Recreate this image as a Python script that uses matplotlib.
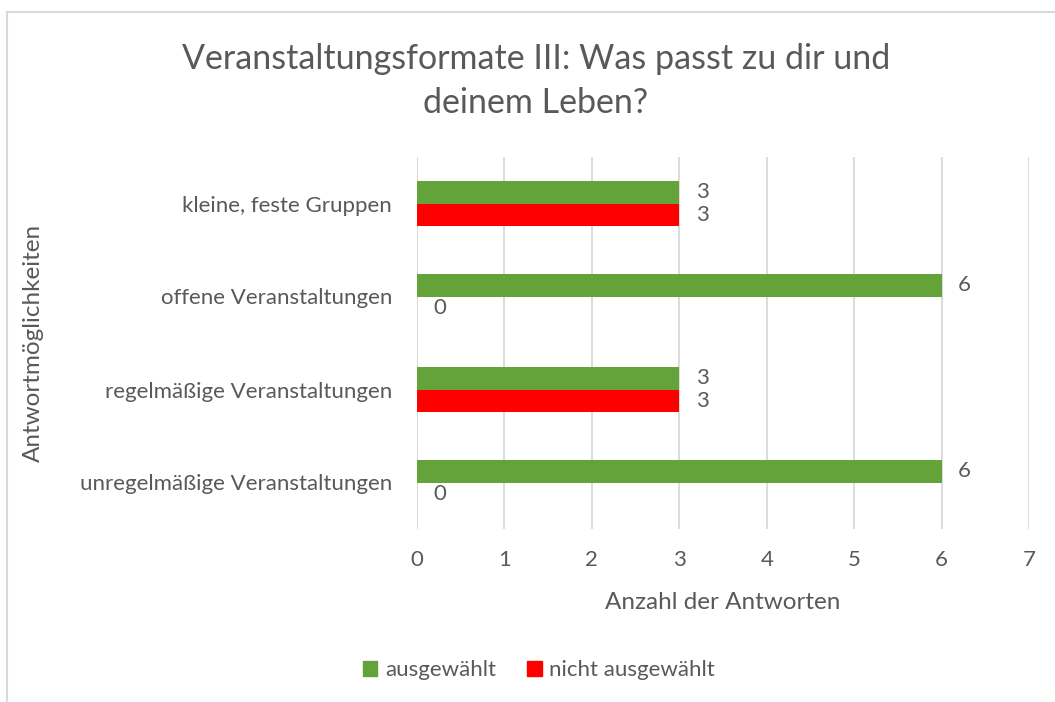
import matplotlib.pyplot as plt
from matplotlib.lines import Line2D
from matplotlib.patches import Patch
import numpy as np

# data
categories = ["kleine, feste Gruppen", "offene Veranstaltungen",
              "regelmäßige Veranstaltungen", "unregelmäßige Veranstaltungen"]
ausgewaehlt = [3, 6, 3, 6]
nicht_ausgewaehlt = [3, 0, 3, 0]
series_names = ["ausgewählt", "nicht ausgewählt"]

green = "#63A33A"
red = "#FF0000"
grey_txt = "#595959"
grid_c = "#D9D9D9"

plt.rcParams["font.family"] = ["Lato", "DejaVu Sans"]

fig = plt.figure(figsize=(10.55, 7.02), dpi=100)
W, H = 1055, 702
# axes in pixel coords: x 417..1029, y 157..529
ax = fig.add_axes([417 / W, 1 - 529 / H, (1029 - 417) / W, (529 - 157) / H])

y = np.arange(len(categories))[::-1].astype(float)
bh = 0.237
ax.barh(y + bh / 2, ausgewaehlt, height=bh, color=green, label=series_names[0])
ax.barh(y - bh / 2, nicht_ausgewaehlt, height=bh, color=red, label=series_names[1])

for yi, v in zip(y, ausgewaehlt):
    ax.text(v + 0.19, yi + bh / 2, str(v), va="center", ha="left", fontsize=16, color=grey_txt)
for yi, v in zip(y, nicht_ausgewaehlt):
    ax.text(v + 0.19, yi - bh / 2, str(v), va="center", ha="left", fontsize=16, color=grey_txt)

ax.set_xlim(0, 7)
ax.set_ylim(-0.5, len(categories) - 0.5)
ax.set_xticks(range(8))
ax.set_yticks(y)
ax.set_yticklabels(categories)
ax.tick_params(length=0, labelsize=16, labelcolor=grey_txt)
ax.tick_params(axis="x", pad=15)
ax.tick_params(axis="y", pad=18)
ax.grid(axis="x", color=grid_c, linewidth=1.3)
ax.set_axisbelow(True)
for s in ax.spines.values():
    s.set_visible(False)

ax.set_xlabel("Anzahl der Antworten", fontsize=17.5, color=grey_txt, labelpad=16)
fig.text(33 / W, 1 - 343 / H, "Antwortmöglichkeiten", rotation=90, fontsize=17.5,
         color=grey_txt, ha="center", va="center")

fig.text(536 / W, 1 - 81 / H, "Veranstaltungsformate III: Was passt zu dir und\ndeinem Leben?",
         ha="center", va="center", fontsize=24.5, color=grey_txt, linespacing=1.45)

handles = [Patch(color=green), Patch(color=red)]
fig.legend(handles, series_names, loc="center", bbox_to_anchor=(539 / W, 1 - 670 / H),
           ncol=2, frameon=False, fontsize=16, labelcolor=grey_txt,
           handlelength=0.65, handleheight=0.65, handletextpad=0.35, columnspacing=1.4)

# chart border
fig.add_artist(Line2D([7 / W, 7 / W], [0, 1 - 12 / H], color=grid_c, linewidth=1.5))
fig.add_artist(Line2D([7 / W, 1054 / W], [1 - 12 / H, 1 - 12 / H], color=grid_c, linewidth=1.5))

fig.savefig("out.png", dpi=100)
